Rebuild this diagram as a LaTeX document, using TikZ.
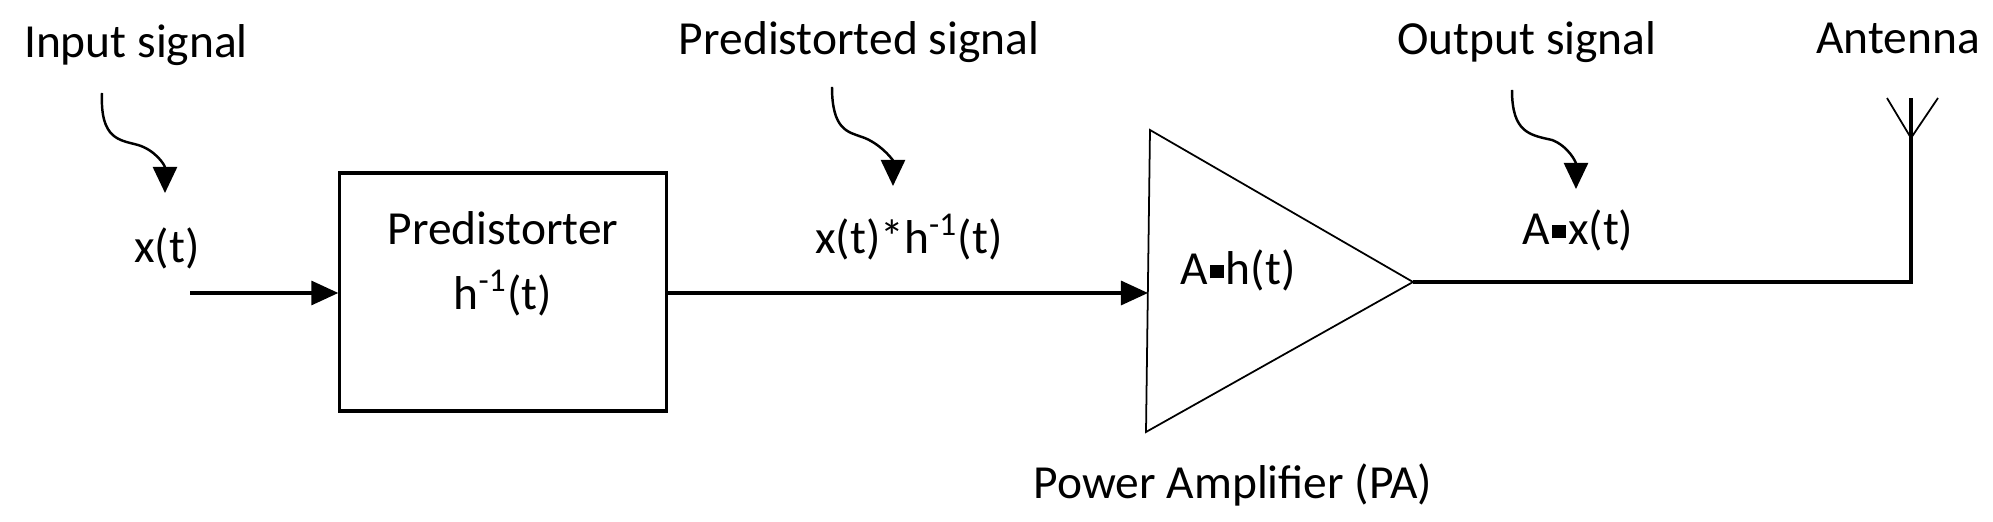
\documentclass[tikz,border=0pt]{standalone}
\usepackage{fontspec}
\setmainfont{Carlito}
\usetikzlibrary{arrows.meta}
\newcommand{\sqdot}{\kern0.05em\raisebox{0.25ex}{\rule{0.28em}{0.28em}}\kern0.05em}
\begin{document}
\begin{tikzpicture}[x=0.01cm,y=-0.01cm,
  lbl/.style={font=\fontsize{13.5}{16}\selectfont, inner sep=0pt},
  conn/.style={line width=0.9pt,-{Triangle[length=0.27cm,width=0.24cm]}},
  curl/.style={line width=0.7pt,-{Triangle[length=0.26cm,width=0.24cm]}}]
\useasboundingbox (0,0) rectangle (1993,522);
% texts
\node[lbl] (in) at (136,45) {Input signal};
\node[lbl] (pd) at (859,42) {Predistorted signal};
\node[lbl] (out) at (1527,42) {Output signal};
\node[lbl] (ant) at (1898,38) {Antenna};
\node[lbl] (x) at (167,248) {x(t)};
\node[lbl] (xh) at (909,237) {x(t)*h\textsuperscript{-1}(t)};
\node[lbl] (ax) at (1578,230) {A\sqdot x(t)};
\node[lbl] (pa) at (1233,485) {Power Amplifier (PA)};
% curly arrows
\coordinate (c1s) at (102,93); \coordinate (c1e) at (165,193);
\draw[curl] (c1s) .. controls (100,140) and (120,140) .. (138,145) .. controls (155,150) and (165,165) .. (c1e);
\coordinate (c2s) at (832,87); \coordinate (c2e) at (893,186);
\draw[curl] (c2s) .. controls (832,130) and (848,132) .. (862,137) .. controls (880,143) and (893,160) .. (c2e);
\coordinate (c3s) at (1512,90); \coordinate (c3e) at (1576,189);
\draw[curl] (c3s) .. controls (1512,133) and (1530,135) .. (1552,140) .. controls (1568,146) and (1576,162) .. (c3e);
% predistorter box
\node[draw, line width=0.9pt, minimum width=3.26cm, minimum height=2.38cm, inner sep=0pt] (box) at (503,292) {};
\node[lbl] (bt1) at (503,228) {Predistorter};
\node[lbl] (bt2) at (503,293) {h\textsuperscript{-1}(t)};
\coordinate (xin) at (190,293);
\draw[conn] (xin) -- (box.west |- xin);
% amplifier triangle
\coordinate (t1) at (1150,130); \coordinate (t2) at (1146,432); \coordinate (tip) at (1413,282);
\draw[line width=0.5pt] (t1) -- (tip) -- (t2) -- cycle;
\node[lbl] (ah) at (1238,270) {A\sqdot h(t)};
\coordinate (tin) at (1148,293);
\draw[conn] (box.east |- tin) -- (tin);
% output and antenna
\coordinate (af) at (1911,282); \coordinate (ap) at (1911,138);
\coordinate (at) at (1911,98); \coordinate (al) at (1887,98); \coordinate (ar) at (1938,98);
\draw[line width=0.9pt] (tip) -- (af) -- (at);
\draw[line width=0.5pt] (al) -- (ap) -- (ar);
\end{tikzpicture}
\end{document}
